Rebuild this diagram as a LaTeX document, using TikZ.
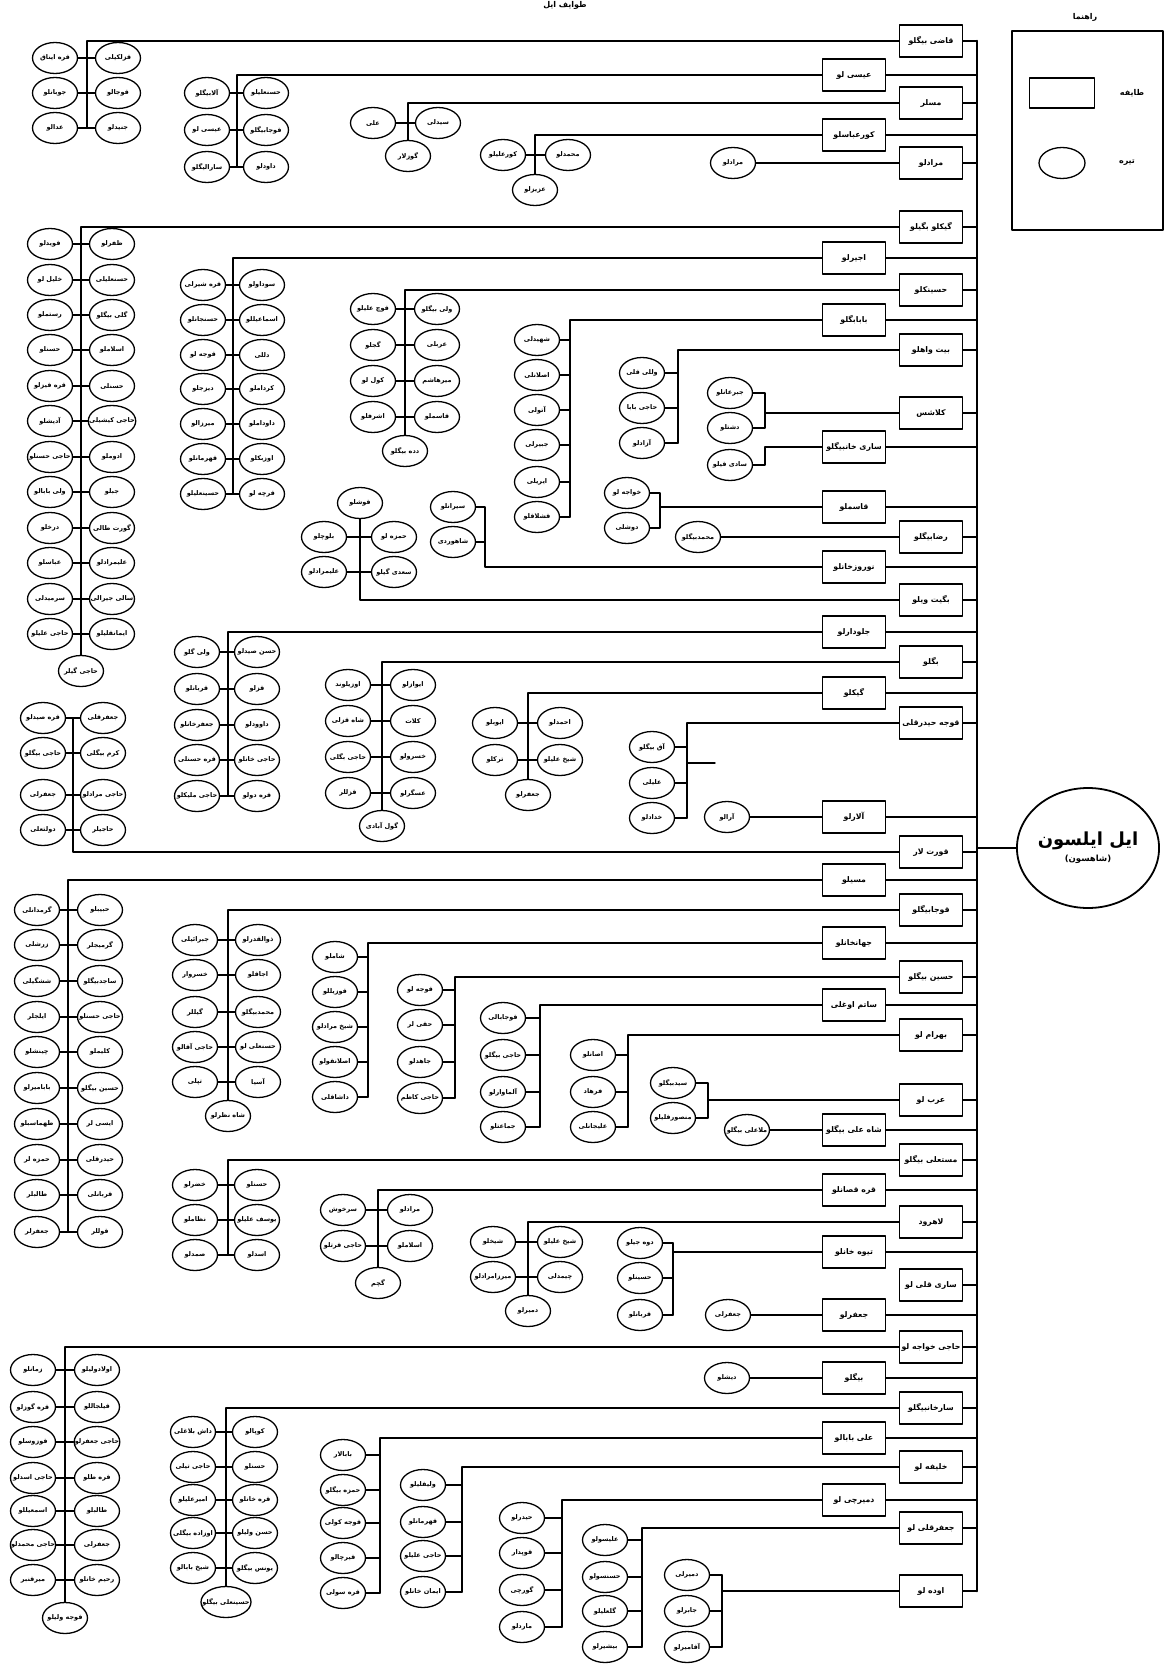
\documentclass[tikz,border=0pt]{standalone}
\usepackage{fontspec}
\usepackage{tikz}
\usetikzlibrary{shapes.geometric}
\newfontfamily\fafont[Script=Arabic]{DejaVu Sans}
\TeXXeTstate=1
\tikzset{
  every picture/.style={
    line join=round,
    line cap=round,
  },
  tayfa/.style={draw, rectangle, line width=1.5pt, minimum width=63pt, minimum height=32pt,
    inner sep=1pt, font=\fafont\bfseries\fontsize{7.8}{9}\selectfont,
    execute at begin node=\beginR, execute at end node=\endR},
  tire/.style={draw, ellipse, line width=1.3pt, minimum width=45pt, minimum height=31pt,
    inner xsep=-6pt, inner ysep=1pt, font=\fafont\bfseries\fontsize{6.5}{7.5}\selectfont,
    execute at begin node=\beginR, execute at end node=\endR},
  link/.style={line width=1.4pt},
  trunk/.style={line width=2.6pt},
  legendtxt/.style={font=\fafont\bfseries\fontsize{8}{9}\selectfont,
    execute at begin node=\beginR, execute at end node=\endR},
}
\begin{document}
\begin{tikzpicture}[x=1pt, y=-1pt]
    \useasboundingbox (0,0) rectangle (1171,1664);

    % Title (cut at the top edge)
    \node[legendtxt] (title) at (565,5) {طوایف ایل};

    % Trunk and the il
    \coordinate (trunktop) at (977,41);
    \coordinate (trunkbot) at (977,1591);
    \draw[trunk] (trunktop) -- (trunkbot);
    \node[draw, ellipse, line width=1.8pt, minimum width=122pt, minimum height=120pt, inner sep=0pt,
      align=center, font=\fafont\bfseries] (root) at (1088,848)
      {{\fontsize{18}{21}\selectfont\beginR ایل ایلسون\endR}\\[4pt]{\fontsize{8.5}{9}\selectfont)\beginR شاهسون\endR(}};
    \draw[link] (root.west) -- (root.west -| trunktop);

    % Legend
    \node[draw, line width=1.2pt, minimum width=151pt, minimum height=199pt] (legend) at (1087.5,130.5) {};
    \node[legendtxt] (legendtitle) at (1085,17) {راهنما};
    \node[draw, line width=1.3pt, minimum width=65pt, minimum height=30pt] (keytayfa) at (1062,93) {};
    \node[legendtxt] (keytayfatxt) at (1132,93) {طایفه};
    \node[draw, ellipse, line width=1.3pt, minimum width=46pt, minimum height=31pt] (keytire) at (1062,163) {};
    \node[legendtxt] (keytiretxt) at (1127,163) {تیره};

    % Tayfa boxes, hung on the trunk
    \foreach \i/\xx/\yy/\t in {1/931/41/قاضی بیگلو, 2/854/75/عیسی لو, 3/931/103/مسلر,
        4/854/135/کورعباسلو, 5/931/163/مرادلو, 6/931/227/گیکلو بگیلو, 7/854/258/اجیرلو,
        8/931/290/حسینکلو, 9/854/320/بابابگلو, 10/931/350/بیت واهلو, 11/931/413/کلاشس,
        12/854/447/ساری خانبیگلو, 13/854/507/قاسملو, 14/931/537/رضابیگلو, 15/854/567/نوروزخانلو,
        16/931/600/بگیت ویلو, 17/854/632/جلودارلو, 18/931/662/بگلو, 19/854/693/گیکلو,
        20/931/723/قوجه حیدرقلی, 21/854/817/آلارلو, 22/931/852/قورت لار, 23/854/880/مسیلو,
        24/931/910/قوجابیگلو, 25/854/943/جهانخانلو, 26/931/977/حسین بیگلو, 27/854/1005/ساتم اوغلی,
        28/931/1035/بهرام لو, 29/931/1100/عرب لو, 30/854/1130/شاه علی بیگلو, 31/931/1160/مستعلی بیگلو,
        32/854/1190/قره قصانلو, 33/931/1222/لاهرود, 34/854/1252/تیوه خانلو, 35/931/1285/ساری قلی لو,
        36/854/1315/جعفرلو, 37/931/1347/حاجی خواجه لو, 38/854/1378/بیگلو, 39/931/1408/سارخانبیگلو,
        40/854/1438/علی بابالو, 41/931/1467/خلیفه لو, 42/854/1500/دمیرچی لو, 43/931/1528/جعفرقلی لو,
        44/931/1591/اوده لو} {
        \node[tayfa] (b\i) at (\xx,\yy) {\t};
        \draw[link] (b\i.east) -- (b\i.east -| trunktop);
    }

    % --- tire groups, top to bottom ---
    % 1
    \foreach \i/\yy/\la/\lb in {1/58/قره ایناق/قزلکیلی, 2/93/جوبانلو/قوجالو, 3/128/عدالو/جنیدلو} {
        \node[tire] (g1l-\i) at (55,\yy) {\la};
        \node[tire] (g1r-\i) at (118,\yy) {\lb};
        \draw[link] (g1l-\i) -- (g1r-\i);
    }
    \coordinate (g1end) at (87,128);
    \draw[link] (b1.west) -| (g1end);

    % 2
    \foreach \i/\yy/\la/\lb in {1/93/آلابیگلو/حسنعلیلو, 2/130/عیسی لو/قوجابیگلو, 3/167/سارالیگلو/داودلو} {
        \node[tire] (g2l-\i) at (207,\yy) {\la};
        \node[tire] (g2r-\i) at (266,\yy) {\lb};
        \draw[link] (g2l-\i) -- (g2r-\i);
    }
    \coordinate (g2end) at (237,167);
    \draw[link] (b2.west) -| (g2end);

    % 3
    \node[tire] (g3a) at (373,123) {علی};
    \node[tire] (g3b) at (438,123) {سیدلی};
    \node[tire] (g3c) at (408,156) {گوزلار};
    \draw[link] (g3a) -- (g3b);
    \draw[link] (b3.west) -| (g3c.north);

    % 4
    \node[tire] (g4a) at (503,155) {کورعلیلو};
    \node[tire] (g4b) at (568,155) {محمدلو};
    \node[tire] (g4c) at (535,190) {عزیزلو};
    \draw[link] (g4a) -- (g4b);
    \draw[link] (b4.west) -| (g4c.north);

    % 5
    \node[tire] (g5) at (733,163) {مرادلو};
    \draw[link] (b5) -- (g5);

    % 6
    \foreach \i/\yy/\la/\lb in {1/244/قویدلو/ظفرلو, 2/280/خلیل لو/حسنعلیلی, 3/315/رستملو/گلی بیگلو,
        4/350/حسنلو/اسلاملو, 5/386/قره قیزلو/حسنلی, 6/421/آدیشلو/حاجی کیشیلی, 7/457/حاجی حسنلو/ادوملو,
        8/492/ولی بابالو/جبلو, 9/528/درخلو/گورت طالی, 10/563/عباسلو/علیمرادلو,
        11/599/سرمیدلی/سالی جیرالی, 12/634/حاجی علیلو/ایمانقلیلو} {
        \node[tire] (g6l-\i) at (50,\yy) {\la};
        \node[tire] (g6r-\i) at (112,\yy) {\lb};
        \draw[link] (g6l-\i) -- (g6r-\i);
    }
    \node[tire] (g6bot) at (81,671) {حاجی گیلر};
    \draw[link] (b6.west) -| (g6bot.north);

    % 7
    \foreach \i/\yy/\la/\lb in {1/285/قره شیرلی/سوداولو, 2/320/حسنجانلو/اسماعیللو, 3/355/قوجه لو/دللی,
        4/389/دیزجلو/کرداملو, 5/424/میرزالو/داوداملو, 6/459/قهرمانلو/اوزبکلو, 7/494/حسینعلیلو/قرچه لو} {
        \node[tire] (g7l-\i) at (203,\yy) {\la};
        \node[tire] (g7r-\i) at (262,\yy) {\lb};
        \draw[link] (g7l-\i) -- (g7r-\i);
    }
    \coordinate (g7end) at (233,494);
    \draw[link] (b7.west) -| (g7end);

    % 8
    \foreach \i/\yy/\la/\lb in {1/309/قوچ علیلو/ولی بیگلو, 2/345/گجلو/عربلی, 3/381/کول لو/میرهاشم, 4/417/اشرفلو/قاسملو} {
        \node[tire] (g8l-\i) at (373,\yy) {\la};
        \node[tire] (g8r-\i) at (437,\yy) {\lb};
        \draw[link] (g8l-\i) -- (g8r-\i);
    }
    \node[tire] (g8bot) at (405,451) {دده بیگلو};
    \draw[link] (b8.west) -| (g8bot.north);

    % 9
    \coordinate (g9end) at (570,517);
    \foreach \i/\yy/\t in {1/340/شهیدلی, 2/375/اصلانلی, 3/410/آتولی, 4/445/جبیرلی, 5/482/ایریلی, 6/517/قشلاقلو} {
        \node[tire] (g9-\i) at (537,\yy) {\t};
        \draw[link] (g9-\i.east) -- (g9-\i.east -| g9end);
    }
    \draw[link] (b9.west) -| (g9end);

    % 10
    \coordinate (g10end) at (678,443);
    \foreach \i/\yy/\t in {1/373/وللی قلی, 2/408/حاجی بابا, 3/443/آزادلو} {
        \node[tire] (g10-\i) at (642,\yy) {\t};
        \draw[link] (g10-\i.east) -- (g10-\i.east -| g10end);
    }
    \draw[link] (b10.west) -| (g10end);

    % 11 and 12
    \node[tire] (g11a) at (730,393) {جبرعانلو};
    \node[tire] (g11b) at (730,428) {دشتلو};
    \node[tire] (g11c) at (730,465) {سادی قیلو};
    \coordinate (k11) at (765,413);
    \coordinate (k12) at (765,447);
    \draw[link] (g11a.east) -- (g11a.east -| k11) |- (g11b.east);
    \draw[link] (b11.west) -- (k11);
    \draw[link] (g11c.east) -| (k12) -- (b12.west);

    % 13
    \node[tire] (g12a) at (627,493) {خواجه لو};
    \node[tire] (g12b) at (627,528) {دوشلی};
    \coordinate (k13) at (660,507);
    \draw[link] (g12a.east) -- (g12a.east -| k13) |- (g12b.east);
    \draw[link] (b13.west) -- (k13);

    % 14
    \node[tire] (g13) at (698,537) {محمدبیگلو};
    \draw[link] (b14) -- (g13);

    % 15
    \node[tire] (g14a) at (453,507) {سیرانلو};
    \node[tire] (g14b) at (453,542) {شاهوردی};
    \coordinate (k15) at (485,567);
    \draw[link] (g14a.east) -| (k15) -- (b15.west);
    \draw[link] (g14b.east) -- (g14b.east -| k15);

    % 16
    \node[tire] (g15t) at (360,503) {قوشلو};
    \foreach \i/\yy/\la/\lb in {1/537/بلوچلو/حمزه لو, 2/572/علیمرادلو/سعدی گیلو} {
        \node[tire] (g15l-\i) at (324,\yy) {\la};
        \node[tire] (g15r-\i) at (394,\yy) {\lb};
        \draw[link] (g15l-\i) -- (g15r-\i);
    }
    \draw[link] (g15t.south) |- (b16.west);

    % 17
    \foreach \i/\yy/\la/\lb in {1/652/ولی گلو/حسن صیدلو, 2/689/قربانلو/قزلو, 3/725/جعفرخانلو/داوودلو,
        4/760/قره حسنلی/حاجی خانلو, 5/796/حاجی ملیکلو/قره دولو} {
        \node[tire] (g16l-\i) at (197,\yy) {\la};
        \node[tire] (g16r-\i) at (257,\yy) {\lb};
        \draw[link] (g16l-\i) -- (g16r-\i);
    }
    \coordinate (g16end) at (228,796);
    \draw[link] (b17.west) -| (g16end);

    % 18
    \foreach \i/\yy/\la/\lb in {1/685/اوزیلوند/ایوازلو, 2/721/شاه قزلی/کلات, 3/757/حاجی بگلی/خسرولو, 4/793/قزللر/عسگرلو} {
        \node[tire] (g17l-\i) at (348,\yy) {\la};
        \node[tire] (g17r-\i) at (413,\yy) {\lb};
        \draw[link] (g17l-\i) -- (g17r-\i);
    }
    \node[tire] (g17bot) at (382,826) {گول آبادی};
    \draw[link] (b18.west) -| (g17bot.north);

    % 19
    \foreach \i/\yy/\la/\lb in {1/723/ایوبلو/احمدلو, 2/760/ترکلو/شیخ علیلو} {
        \node[tire] (g18l-\i) at (495,\yy) {\la};
        \node[tire] (g18r-\i) at (560,\yy) {\lb};
        \draw[link] (g18l-\i) -- (g18r-\i);
    }
    \node[tire] (g18bot) at (528,795) {جعفرلو};
    \draw[link] (b19.west) -| (g18bot.north);

    % 20
    \coordinate (g19end) at (687,818);
    \foreach \i/\yy/\t in {1/747/آق بیگلو, 2/783/علیلی, 3/818/خدادلو} {
        \node[tire] (g19-\i) at (652,\yy) {\t};
        \draw[link] (g19-\i.east) -- (g19-\i.east -| g19end);
    }
    \draw[link] (b20.west) -| (g19end);
    \coordinate (g19stub) at (715,763);
    \draw[link] (g19stub -| g19end) -- (g19stub);

    % 21
    \node[tire] (g20) at (727,817) {آرالو};
    \draw[link] (b21) -- (g20);

    % 22
    \foreach \i/\yy/\la/\lb in {1/718/قره صیدلو/جعفرقلی, 2/753/حاجی بیگلو/کرم بیگلی, 3/795/جعفرلی/حاجی مرادلو, 4/830/دولتعلی/حاجیلر} {
        \node[tire] (g21l-\i) at (43,\yy) {\la};
        \node[tire] (g21r-\i) at (103,\yy) {\lb};
        \draw[link] (g21l-\i) -- (g21r-\i);
    }
    \coordinate (g21top) at (73,718);
    \draw[link] (b22.west) -| (g21top);

    % 23
    \foreach \i/\yy/\la/\lb in {1/910/گرمدانلی/حبیبلو, 2/945/زرشلی/گرمیجلر, 3/981/ششگیلی/ساجدبیگلو,
        4/1017/ایلجلر/حاجی حسنلو, 5/1052/چینشلو/کلیملو, 6/1088/بابامیرلو/حسین بیگلو,
        7/1124/طهماسبلو/ایسی لر, 8/1160/حمزه لر/حیدرقلی, 9/1195/طالبلر/قربانلی, 10/1232/جعفرلر/قوللر} {
        \node[tire] (g22l-\i) at (37,\yy) {\la};
        \node[tire] (g22r-\i) at (100,\yy) {\lb};
        \draw[link] (g22l-\i) -- (g22r-\i);
    }
    \coordinate (g22end) at (68,1232);
    \draw[link] (b23.west) -| (g22end);

    % 24
    \foreach \i/\yy/\la/\lb in {1/940/جبرائیلی/ذوالقدرلو, 2/975/خسروار/اجاقلو, 3/1012/گیللر/محمدبیگلو,
        4/1047/حاجی آقالو/حسنعلی لو, 5/1082/تپلی/آسیا} {
        \node[tire] (g23l-\i) at (195,\yy) {\la};
        \node[tire] (g23r-\i) at (258,\yy) {\lb};
        \draw[link] (g23l-\i) -- (g23r-\i);
    }
    \node[tire] (g23bot) at (228,1116) {شاه نظرلو};
    \draw[link] (b24.west) -| (g23bot.north);

    % 25
    \coordinate (g24end) at (368,1097);
    \foreach \i/\yy/\t in {1/957/شاملو, 2/992/قوزیللو, 3/1027/شیخ مرادلو, 4/1062/اصلانقولو, 5/1097/داشاقلی} {
        \node[tire] (g24-\i) at (335,\yy) {\t};
        \draw[link] (g24-\i.east) -- (g24-\i.east -| g24end);
    }
    \draw[link] (b25.west) -| (g24end);

    % 26
    \coordinate (g25end) at (455,1098);
    \foreach \i/\yy/\t in {1/990/قوجه لو, 2/1025/حقی لر, 3/1062/جاهدلو, 4/1098/حاجی کاظم} {
        \node[tire] (g25-\i) at (420,\yy) {\t};
        \draw[link] (g25-\i.east) -- (g25-\i.east -| g25end);
    }
    \draw[link] (b26.west) -| (g25end);

    % 27
    \coordinate (g26end) at (540,1127);
    \foreach \i/\yy/\t in {1/1018/قوجابالی, 2/1055/حاجی بیگلو, 3/1092/آلماوارلو, 4/1127/جماعتلو} {
        \node[tire] (g26-\i) at (503,\yy) {\t};
        \draw[link] (g26-\i.east) -- (g26-\i.east -| g26end);
    }
    \draw[link] (b27.west) -| (g26end);

    % 28
    \coordinate (g27end) at (628,1127);
    \foreach \i/\yy/\t in {1/1055/اصانلو, 2/1092/فرهاد, 3/1127/علیجانلی} {
        \node[tire] (g27-\i) at (593,\yy) {\t};
        \draw[link] (g27-\i.east) -- (g27-\i.east -| g27end);
    }
    \draw[link] (b28.west) -| (g27end);

    % 29
    \node[tire] (g28a) at (673,1083) {سیدبیگلو};
    \node[tire] (g28b) at (673,1118) {منصورقلیلو};
    \coordinate (k29) at (708,1100);
    \draw[link] (g28a.east) -- (g28a.east -| k29) |- (g28b.east);
    \draw[link] (b29.west) -- (k29);

    % 30
    \node[tire] (g29) at (747,1130) {ملاعلی بیگلو};
    \draw[link] (b30) -- (g29);

    % 31
    \foreach \i/\yy/\la/\lb in {1/1185/خضرلو/حسنلو, 2/1220/نظاملو/یوسف علیلو, 3/1255/صمدلو/اسدلو} {
        \node[tire] (g30l-\i) at (195,\yy) {\la};
        \node[tire] (g30r-\i) at (257,\yy) {\lb};
        \draw[link] (g30l-\i) -- (g30r-\i);
    }
    \coordinate (g30end) at (228,1255);
    \draw[link] (b31.west) -| (g30end);

    % 32
    \foreach \i/\yy/\la/\lb in {1/1210/سرخوش/مرادلو, 2/1246/حاجی قرتلو/اسلاملو} {
        \node[tire] (g31l-\i) at (343,\yy) {\la};
        \node[tire] (g31r-\i) at (410,\yy) {\lb};
        \draw[link] (g31l-\i) -- (g31r-\i);
    }
    \node[tire] (g31bot) at (378,1283) {گچم};
    \draw[link] (b32.west) -| (g31bot.north);

    % 33
    \foreach \i/\yy/\la/\lb in {1/1242/شیخلو/شیخ علیلو, 2/1277/میرزامرادلو/چیمدلی} {
        \node[tire] (g32l-\i) at (493,\yy) {\la};
        \node[tire] (g32r-\i) at (560,\yy) {\lb};
        \draw[link] (g32l-\i) -- (g32r-\i);
    }
    \node[tire] (g32bot) at (528,1311) {دمیرلو};
    \draw[link] (b33.west) -| (g32bot.north);

    % 34
    \coordinate (g33top) at (673,1243);
    \coordinate (g33end) at (673,1315);
    \foreach \i/\yy/\t in {1/1243/دوه جیلو, 2/1278/حسینلو, 3/1315/قربانلو} {
        \node[tire] (g33-\i) at (640,\yy) {\t};
        \draw[link] (g33-\i.east) -- (g33-\i.east -| g33end);
    }
    \draw[link] (g33top) -- (g33end);
    \draw[link] (b34.west) -- (b34.west -| g33top);

    % 36
    \node[tire] (g34) at (728,1315) {جعفرلی};
    \draw[link] (b36) -- (g34);

    % 37
    \foreach \i/\yy/\la/\lb in {1/1370/زمانلو/اولادولیلو, 2/1407/قره گوزلو/قیلجاللو, 3/1442/قوزوسلو/حاجی جعفرلو,
        4/1478/حاجی اسدلو/قره طلو, 5/1511/اسمعیللو/طالبلو, 6/1545/حاجی محمدلو/جعفرلی, 7/1580/میرقنبر/رحیم خانلو} {
        \node[tire] (g35l-\i) at (33,\yy) {\la};
        \node[tire] (g35r-\i) at (97,\yy) {\lb};
        \draw[link] (g35l-\i) -- (g35r-\i);
    }
    \node[tire] (g35bot) at (65,1618) {قوجه ولیلو};
    \draw[link] (b37.west) -| (g35bot.north);

    % 38
    \node[tire] (g36) at (727,1378) {دیشلو};
    \draw[link] (b38) -- (g36);

    % 39
    \foreach \i/\yy/\la/\lb in {1/1432/داش بلاغلی/کوپالو, 2/1467/حاجی تیلی/حسنلو, 3/1500/امیرعلیلو/قره خانلو,
        4/1533/اوزاده بیگلی/حسن ولیلو, 5/1568/شیخ بابالو/یونس بیگلو} {
        \node[tire] (g37l-\i) at (193,\yy) {\la};
        \node[tire] (g37r-\i) at (255,\yy) {\lb};
        \draw[link] (g37l-\i) -- (g37r-\i);
    }
    \node[tire] (g37bot) at (226,1602) {حسینعلی بیگلو};
    \draw[link] (b39.west) -| (g37bot.north);

    % 40
    \coordinate (g38end) at (380,1593);
    \foreach \i/\yy/\t in {1/1455/بابالار, 2/1490/حمزه بیگلو, 3/1523/قوجه کولی, 4/1558/قیرچالو, 5/1593/قره سولی} {
        \node[tire] (g38-\i) at (343,\yy) {\t};
        \draw[link] (g38-\i.east) -- (g38-\i.east -| g38end);
    }
    \draw[link] (b40.west) -| (g38end);

    % 41
    \coordinate (g39end) at (462,1592);
    \foreach \i/\yy/\t in {1/1485/ولیقلیلو, 2/1522/قهرمانلو, 3/1556/حاجی علیلو, 4/1592/ایمان خانلو} {
        \node[tire] (g39-\i) at (423,\yy) {\t};
        \draw[link] (g39-\i.east) -- (g39-\i.east -| g39end);
    }
    \draw[link] (b41.west) -| (g39end);

    % 42
    \coordinate (g40end) at (562,1627);
    \foreach \i/\yy/\t in {1/1518/حیدرلو, 2/1553/قوپدار, 3/1590/گورچی, 4/1627/ماردلو} {
        \node[tire] (g40-\i) at (522,\yy) {\t};
        \draw[link] (g40-\i.east) -- (g40-\i.east -| g40end);
    }
    \draw[link] (b42.west) -| (g40end);

    % 43
    \coordinate (g41end) at (642,1647);
    \foreach \i/\yy/\t in {1/1540/علیسولو, 2/1577/حسنسولو, 3/1611/گلعلیلو, 4/1647/بیشیرلو} {
        \node[tire] (g41-\i) at (605,\yy) {\t};
        \draw[link] (g41-\i.east) -- (g41-\i.east -| g41end);
    }
    \draw[link] (b43.west) -| (g41end);

    % 44
    \coordinate (g42top) at (722,1575);
    \coordinate (g42end) at (722,1647);
    \foreach \i/\yy/\t in {1/1575/دمیرلی, 2/1611/جابرلو, 3/1647/آقامیرلو} {
        \node[tire] (g42-\i) at (687,\yy) {\t};
        \draw[link] (g42-\i.east) -- (g42-\i.east -| g42end);
    }
    \draw[link] (g42top) -- (g42end);
    \draw[link] (b44.west) -- (b44.west -| g42top);
\end{tikzpicture}
\end{document}
